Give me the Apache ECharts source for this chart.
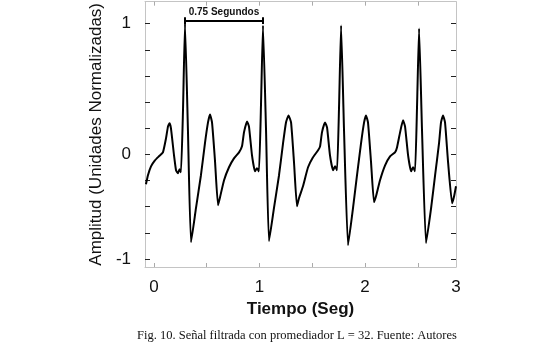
<!DOCTYPE html>
<html>
<head>
<meta charset="utf-8">
<script src="https://cdn.jsdelivr.net/npm/echarts@6/dist/echarts.min.js"></script>
<style>
  html, body { margin: 0; padding: 0; background: #fff; }
  #chart { width: 550px; height: 342px; }
</style>
</head>
<body>
<div id="chart"></div>
<script>
// tiempo (s) y amplitud normalizada
const tiempo = [
  -0.076, -0.057, -0.028, 0.009, 0.047, 0.085, 0.114, 0.133, 0.147, 0.161, 0.190, 0.209, 0.227, 0.242, 0.256,
  0.275, 0.294, 0.322, 0.351, 0.398, 0.445, 0.483, 0.512, 0.531, 0.550, 0.578, 0.607, 0.626, 0.664, 0.711,
  0.758, 0.806, 0.834, 0.853, 0.882, 0.900, 0.929, 0.957, 0.976, 0.995, 1.014, 1.033, 1.062, 1.090, 1.137,
  1.185, 1.223, 1.251, 1.275, 1.299, 1.327, 1.355, 1.374, 1.412, 1.460, 1.507, 1.555, 1.574, 1.592, 1.621,
  1.640, 1.668, 1.697, 1.716, 1.735, 1.754, 1.773, 1.801, 1.839, 1.886, 1.924, 1.962, 1.991, 2.009, 2.028,
  2.057, 2.085, 2.104, 2.142, 2.190, 2.237, 2.284, 2.303, 2.332, 2.360, 2.379, 2.408, 2.436, 2.455, 2.474,
  2.493, 2.512, 2.540, 2.578, 2.626, 2.664, 2.701, 2.720, 2.739, 2.758, 2.787, 2.825, 2.844, 2.862
]
const amplitud = [
  -0.229, -0.160, -0.092, -0.046, -0.015, 0.015, 0.122, 0.214, 0.237, 0.198, -0.008, -0.122, -0.145, -0.115, -0.137,
  0.336, 1.000, 0.183, -0.672, -0.412, -0.160, 0.084, 0.244, 0.305, 0.244, -0.046, -0.389, -0.328, -0.198, -0.099,
  -0.031, 0.015, 0.061, 0.168, 0.252, 0.214, -0.008, -0.130, -0.107, -0.130, 0.374, 0.985, 0.183, -0.664, -0.412,
  -0.160, 0.084, 0.244, 0.298, 0.244, -0.061, -0.397, -0.336, -0.244, -0.099, -0.023, 0.031, 0.061, 0.168, 0.244,
  0.206, -0.008, -0.122, -0.092, -0.122, 0.374, 0.985, 0.183, -0.695, -0.412, -0.160, 0.084, 0.244, 0.298, 0.244,
  -0.061, -0.366, -0.321, -0.198, -0.084, -0.015, 0.015, 0.053, 0.168, 0.260, 0.214, -0.008, -0.130, -0.099, -0.130,
  0.374, 0.962, 0.183, -0.679, -0.412, -0.160, 0.084, 0.244, 0.298, 0.244, -0.061, -0.374, -0.321, -0.244
]

// marcas de los ejes
const xTicks = [0, 0.5, 1, 1.5, 2, 2.5]
const xLabelPos = [0, 1, 2, 2.862]
const xLabelText = ['0', '1', '2', '3']
const yTicks = [1, 0.8, 0.6, 0.4, 0.2, 0, -0.2, -0.4, -0.6, -0.8]
const yLabelPos = [1, 0, -0.8]
const yLabelText = ['1', '0', '-1']

// anotación entre dos picos R
const bracketStart = 0.294
const bracketEnd = 1.033
const bracketLevel = 1.023
const bracketText = '0.75 Segundos'

const xMin = -0.085, xMax = 2.862
const yMin = -0.862, yMax = 1.168

const chart = echarts.init(document.getElementById('chart'))

const axisLineStyle = { color: '#c4c4c4', width: 1 }

const option = {
  animation: false,
  textStyle: { fontFamily: 'Liberation Sans, Arial, sans-serif' },
  title: {
    text: 'Fig. 10. Señal filtrada con promediador L = 32. Fuente: Autores',
    left: 132,
    top: 324,
    textStyle: {
      fontFamily: 'Liberation Serif, serif',
      fontWeight: 'normal',
      fontSize: 12.5,
      color: '#111'
    }
  },
  grid: { left: 145, right: 94, top: 1, bottom: 75 },
  xAxis: [
    {
      type: 'value',
      min: xMin,
      max: xMax,
      name: 'Tiempo (Seg)',
      nameLocation: 'middle',
      nameGap: 26,
      nameTextStyle: { fontSize: 17, fontWeight: 'bold', color: '#111' },
      axisLine: { onZero: false, lineStyle: axisLineStyle },
      axisTick: { inside: true, length: 4, customValues: xTicks, lineStyle: { color: '#aaa' } },
      axisLabel: {
        customValues: xLabelPos,
        fontSize: 17,
        color: '#111',
        margin: 12,
        formatter: v => xLabelText[xLabelPos.indexOf(v)]
      },
      splitLine: { show: false }
    },
    {
      type: 'value',
      position: 'top',
      min: xMin,
      max: xMax,
      axisLine: { show: true, onZero: false, lineStyle: axisLineStyle },
      axisTick: { show: true, inside: true, length: 4, customValues: xTicks, lineStyle: { color: '#aaa' } },
      axisLabel: { show: false },
      splitLine: { show: false }
    }
  ],
  yAxis: [
    {
      type: 'value',
      min: yMin,
      max: yMax,
      name: 'Amplitud (Unidades Normalizadas)',
      nameLocation: 'middle',
      nameGap: 39,
      nameTextStyle: { fontSize: 17, color: '#111' },
      axisLine: { show: true, onZero: false, lineStyle: axisLineStyle },
      axisTick: { show: true, inside: true, length: 5, customValues: yTicks, lineStyle: { color: '#222' } },
      axisLabel: {
        customValues: yLabelPos,
        fontSize: 17,
        color: '#111',
        margin: 14,
        formatter: v => yLabelText[yLabelPos.indexOf(v)]
      },
      splitLine: { show: false }
    },
    {
      type: 'value',
      position: 'right',
      min: yMin,
      max: yMax,
      axisLine: { show: true, onZero: false, lineStyle: axisLineStyle },
      axisTick: { show: true, inside: true, length: 5, customValues: yTicks, lineStyle: { color: '#222' } },
      axisLabel: { show: false },
      splitLine: { show: false }
    }
  ],
  series: [
    {
      name: 'Señal filtrada',
      type: 'line',
      data: tiempo.map((t, i) => [t, amplitud[i]]),
      showSymbol: false,
      smooth: 0.15,
      lineStyle: { color: '#000', width: 2 },
      z: 3
    },
    {
      name: 'Intervalo',
      type: 'line',
      data: [],
      markLine: {
        silent: true,
        symbol: 'none',
        lineStyle: { color: '#000', width: 2, type: 'solid' },
        label: { show: false },
        data: [
          [
            { coord: [bracketStart, bracketLevel] },
            {
              coord: [bracketEnd, bracketLevel],
              label: {
                show: true,
                position: 'middle',
                formatter: bracketText,
                fontSize: 10,
                fontWeight: 'bold',
                color: '#111',
                distance: 3
              }
            }
          ],
          [{ coord: [bracketStart, bracketLevel - 0.025] }, { coord: [bracketStart, bracketLevel + 0.025] }],
          [{ coord: [bracketEnd, bracketLevel - 0.025] }, { coord: [bracketEnd, bracketLevel + 0.025] }]
        ]
      }
    }
  ]
}

chart.setOption(option)
window.addEventListener('resize', () => chart.resize())
</script>
</body>
</html>
